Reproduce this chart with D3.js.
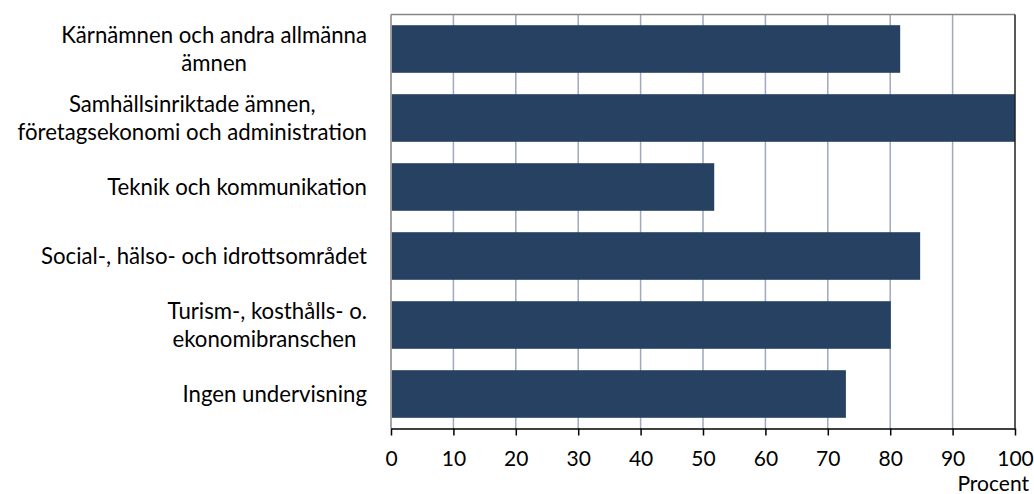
<!DOCTYPE html>
<html><head><meta charset="utf-8">
<script src="https://cdn.jsdelivr.net/npm/d3@7"></script>
<style>body{margin:0;background:#fff} svg{display:block} text{font-family:Lato, "Open Sans", sans-serif;fill:#000}</style>
</head><body><svg id="c" width="1034" height="494"></svg>
<script>
const categories = [
  "Kärnämnen och andra allmänna\nämnen",
  "Samhällsinriktade ämnen,\nföretagsekonomi och administration",
  "Teknik och kommunikation",
  "Social-, hälso- och idrottsområdet",
  "Turism-, kosthålls- o.\nekonomibranschen ",
  "Ingen undervisning"
];
const values = [81.6, 100, 51.8, 84.8, 80.1, 72.9];
const xTicks = [0, 10, 20, 30, 40, 50, 60, 70, 80, 90, 100];
const xTitle = "Procent";

(function () {
const svg = d3.select("#c");
const pLeft = 391, pRight = 1015, pTop = 14.5, pBottom = 428.5;
const tickFont = 21, catFont = 22.2;
const x = d3.scaleLinear().domain([0, 100]).range([pLeft, pRight]);
const y = d3.scaleBand().domain(d3.range(categories.length)).range([pTop, pBottom])
  .paddingInner(0.31).paddingOuter(0.155);

// gridlines
svg.append("g").selectAll("line").data(xTicks.filter(t => t > 0 && t < 100)).join("line")
  .attr("x1", d => x(d)).attr("x2", d => x(d)).attr("y1", pTop).attr("y2", pBottom)
  .attr("stroke", "#9ea9bd").attr("stroke-width", 1.5);

// bars
svg.append("g").selectAll("rect").data(values).join("rect")
  .attr("x", x(0) + 0.75).attr("y", (d, i) => y(i))
  .attr("width", d => x(d) - x(0) - 0.75).attr("height", y.bandwidth())
  .attr("fill", "#274162");

// plot borders
svg.append("line").attr("x1", pLeft).attr("x2", pRight).attr("y1", pTop).attr("y2", pTop)
  .attr("stroke", "#868686").attr("stroke-width", 1.5);
svg.append("line").attr("x1", pLeft).attr("x2", pLeft).attr("y1", pTop).attr("y2", pBottom)
  .attr("stroke", "#868686").attr("stroke-width", 1.5);
svg.append("line").attr("x1", pRight).attr("x2", pRight).attr("y1", pTop).attr("y2", pBottom)
  .attr("stroke", "#222").attr("stroke-width", 1.5);

// x axis
const ax = svg.append("g").attr("transform", `translate(0,${pBottom})`)
  .call(d3.axisBottom(x).tickValues(xTicks).tickSize(7).tickSizeOuter(0).tickFormat(d3.format("d")));
ax.select(".domain").attr("stroke", "#000").attr("stroke-width", 1.5);
ax.selectAll(".tick line").attr("stroke", "#000").attr("stroke-width", 1.5);
ax.selectAll(".tick text").attr("y", 30.5).attr("dy", "0.35em")
  .style("font-family", "Lato, 'Open Sans', sans-serif").style("font-size", tickFont + "px").attr("fill", "#000");

svg.append("text").attr("x", 1029).attr("y", 484).attr("dy", "0.35em")
  .attr("text-anchor", "end").style("font-size", tickFont + "px").text(xTitle);

// category labels
const labelRight = 367, lineH = 28.5;
const lg = svg.append("g");
categories.forEach((c, i) => {
  const lines = c.split("\n");
  const cy = y(i) + y.bandwidth() / 2;
  const g = lg.append("g");
  const ts = lines.map((ln, k) => g.append("text")
    .attr("y", cy + (k - (lines.length - 1) / 2) * lineH).attr("dy", "0.35em")
    .attr("text-anchor", "middle").style("font-size", catFont + "px")
    .style("white-space", "pre").text(ln));
  const w = d3.max(ts, t => t.node().getComputedTextLength());
  ts.forEach(t => t.attr("x", labelRight - w / 2));
});
})();
</script></body></html>
